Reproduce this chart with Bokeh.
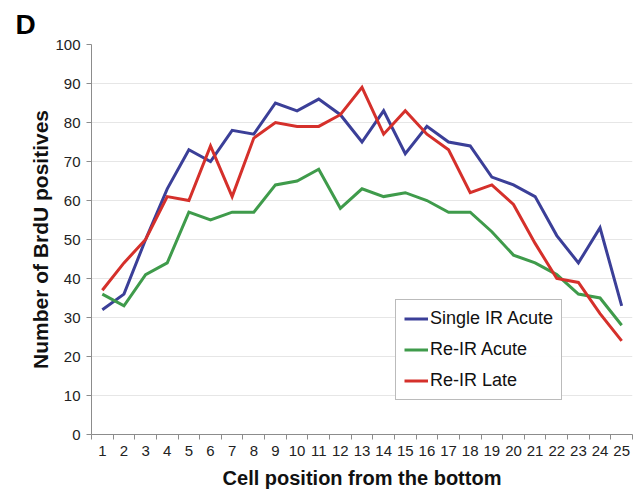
from bokeh.plotting import figure
from bokeh.models import FixedTicker, Legend, LegendItem, Range1d
from bokeh.embed import file_html
from bokeh.resources import INLINE

positions = list(range(1, 26))
single_ir_acute = [32, 36, 50, 63, 73, 70, 78, 77, 85, 83, 86, 82, 75, 83, 72, 79, 75, 74, 66, 64, 61, 51, 44, 53, 33]
re_ir_acute = [36, 33, 41, 44, 57, 55, 57, 57, 64, 65, 68, 58, 63, 61, 62, 60, 57, 57, 52, 46, 44, 41, 36, 35, 28]
re_ir_late = [37, 44, 50, 61, 60, 74, 61, 76, 80, 79, 79, 82, 89, 77, 83, 77, 73, 62, 64, 59, 49, 40, 39, 31, 24]
y_ticks = list(range(0, 101, 10))
names = ["Single IR Acute", "Re-IR Acute", "Re-IR Late"]

FONT = "Liberation Sans"

p = figure(width=640, height=491, output_backend="svg", toolbar_location=None,
           x_range=Range1d(0.5, len(positions) + 0.5), y_range=Range1d(0, 100),
           min_border_left=91, min_border_right=8, min_border_top=44, min_border_bottom=56,
           title="D")
p.outline_line_color = None
p.background_fill_color = "white"

p.title.text_font = FONT
p.title.text_font_style = "bold"
p.title.text_font_size = "28px"
p.title.text_color = "black"
p.title.align = "left"
p.title.offset = -76
p.title.standoff = 10

colors = ["#3b3f98", "#3f9b4b", "#d5302b"]
renderers = []
for ys, c in zip([single_ir_acute, re_ir_acute, re_ir_late], colors):
    r = p.line(positions, ys, line_color=c, line_width=3, line_join="miter")
    renderers.append(r)

# axes
p.xgrid.visible = False
p.ygrid.grid_line_color = "#e6e6e6"
p.ygrid.grid_line_width = 1
p.ygrid.ticker = FixedTicker(ticks=y_ticks)

p.yaxis.ticker = FixedTicker(ticks=y_ticks)
p.yaxis.axis_line_color = "#8c8c8c"
p.yaxis.major_tick_line_color = "#8c8c8c"
p.yaxis.major_tick_out = 5
p.yaxis.major_tick_in = 0
p.yaxis.minor_tick_line_color = None
p.yaxis.major_label_standoff = 6
p.yaxis.major_label_text_font = FONT
p.yaxis.major_label_text_font_size = "15px"
p.yaxis.major_label_text_color = "#222222"
p.yaxis.axis_label = "Number of BrdU positives"
p.yaxis.axis_label_text_font = FONT
p.yaxis.axis_label_text_font_style = "bold"
p.yaxis.axis_label_text_font_size = "21px"
p.yaxis.axis_label_text_color = "#111111"
p.yaxis.axis_label_standoff = 0

half = [i + 0.5 for i in range(0, len(positions) + 1)]
p.xaxis.ticker = FixedTicker(ticks=positions, minor_ticks=half)
p.xaxis.axis_line_color = "#8c8c8c"
p.xaxis.major_tick_line_color = None
p.xaxis.minor_tick_line_color = "#8c8c8c"
p.xaxis.minor_tick_out = 5
p.xaxis.minor_tick_in = 0
p.xaxis.major_label_standoff = 5
p.xaxis.major_label_text_font = FONT
p.xaxis.major_label_text_font_size = "15px"
p.xaxis.major_label_text_color = "#222222"
p.xaxis.axis_label = "Cell position from the bottom"
p.xaxis.axis_label_text_font = FONT
p.xaxis.axis_label_text_font_style = "bold"
p.xaxis.axis_label_text_font_size = "20px"
p.xaxis.axis_label_text_color = "#111111"
p.xaxis.axis_label_standoff = 8

legend = Legend(items=[LegendItem(label=n, renderers=[r]) for n, r in zip(names, renderers)],
                location=(304, 34), orientation="vertical")
legend.border_line_color = "#777777"
legend.border_line_width = 1
legend.background_fill_color = "white"
legend.label_text_font = FONT
legend.label_text_font_size = "18px"
legend.label_text_color = "#111111"
legend.glyph_width = 24
legend.glyph_height = 21
legend.label_standoff = 2
legend.spacing = 10
legend.padding = 8
legend.margin = 0
legend.label_height = 21
p.add_layout(legend, "center")

open("out.html", "w").write(file_html(p, INLINE))
